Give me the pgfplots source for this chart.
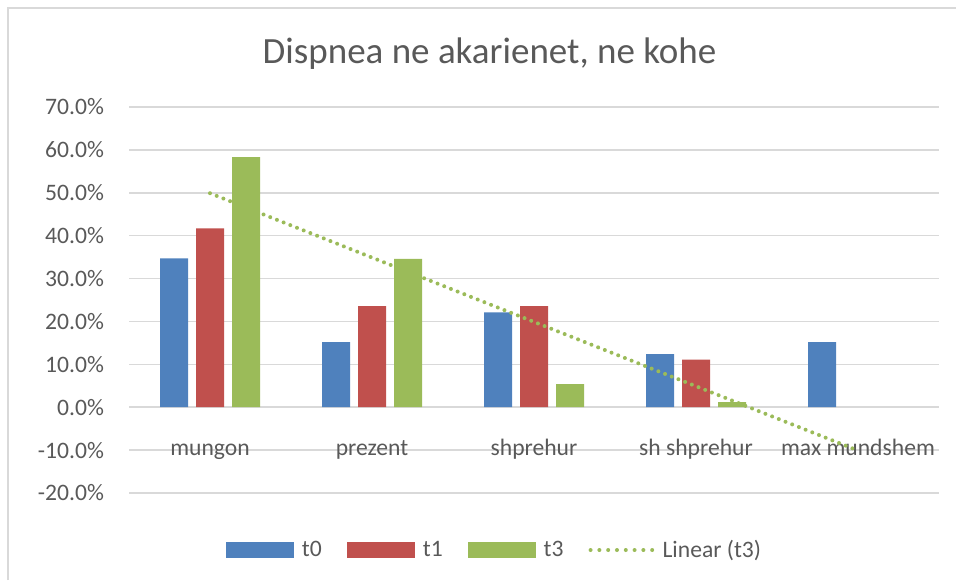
\documentclass[border=0pt]{standalone}
\usepackage{fontspec}
\setmainfont{Carlito}
\usepackage{pgfplots}
\pgfplotsset{compat=1.18}
\definecolor{xlBlue}{HTML}{4F81BD}
\definecolor{xlRed}{HTML}{C0504D}
\definecolor{xlGreen}{HTML}{9BBB59}
\definecolor{xlGrid}{HTML}{D9D9D9}
\definecolor{xlText}{HTML}{595959}

% values in percent, categories at x = 0..4
\pgfplotstableread{
x t0   t1   t3
0 34.7 41.7 58.3
1 15.2 23.6 34.6
2 22.1 23.6 5.4
3 12.4 11.1 1.2
4 15.2 0    0
}\dispnea

\begin{document}
\begin{tikzpicture}
\useasboundingbox (0,0) rectangle (478pt,290pt);
\draw[xlGrid, line width=0.75pt] (4pt,0) -- (4pt,286pt) -- (478pt,286pt);
\node[anchor=base, text=xlText, font=\fontsize{18.5}{22}\selectfont] at (244.75pt,258.3pt) {Dispnea ne akarienet, ne kohe};
\begin{axis}[
  at={(64.5pt,43.5pt)}, anchor=south west,
  scale only axis, width=405pt, height=193pt,
  xmin=-0.5, xmax=4.5, ymin=-20, ymax=70,
  ytick={-20,-10,...,70},
  xtick={0,1,2,3,4},
  xticklabels={mungon,prezent,shprehur,sh shprehur,max mundshem},
  yticklabel={\pgfmathprintnumber[fixed,fixed zerofill,precision=1]{\tick}\%},
  /pgf/number format/assume math mode=true,
  ymajorgrids, grid style={draw=xlGrid, line width=0.75pt},
  axis line style={draw=none}, major tick length=0pt,
  ticklabel style={font=\fontsize{11.8}{14}\selectfont, text=xlText},
  xticklabel style={anchor=base, yshift=18.6pt},
  yticklabel style={anchor=east, xshift=-9pt},
  legend columns=4,
  legend cell align=left,
  legend style={at={(0.4519,-0.1477)}, anchor=center, draw=none, fill=none,
    font=\fontsize{11.8}{14}\selectfont, text=xlText,
    nodes={inner sep=1.5pt},
    /tikz/every odd column/.append style={column sep=2.5pt},
    /tikz/every even column/.append style={column sep=11pt}},
]
\addplot[ybar, bar width=14pt, bar shift=-18pt, fill=xlBlue, draw=none,
  legend image code/.code={\fill[xlBlue] (0pt,-4pt) rectangle (34pt,4pt);}]
  table[x=x, y=t0] {\dispnea};
\addplot[ybar, bar width=14pt, bar shift=0pt, fill=xlRed, draw=none,
  skip coords between index={4}{5},
  legend image code/.code={\fill[xlRed] (0pt,-4pt) rectangle (34pt,4pt);}]
  table[x=x, y=t1] {\dispnea};
\addplot[ybar, bar width=14pt, bar shift=18pt, fill=xlGreen, draw=none,
  skip coords between index={4}{5},
  legend image code/.code={\fill[xlGreen] (0pt,-4pt) rectangle (34pt,4pt);}]
  table[x=x, y=t3] {\dispnea};
% linear trend of t3 (least squares end points)
\addplot[xlGreen, line width=2pt, line cap=round, dash pattern=on 0pt off 3.6pt,
  legend image code/.code={\draw[xlGreen, line width=2pt, line cap=round, dash pattern=on 0pt off 4.4pt] (1.5pt,0pt) -- (32.5pt,0pt);}]
  coordinates {(0,49.9) (4,-10.1)};
\legend{t0,t1,t3,Linear (t3)}
\end{axis}
\end{tikzpicture}
\end{document}
